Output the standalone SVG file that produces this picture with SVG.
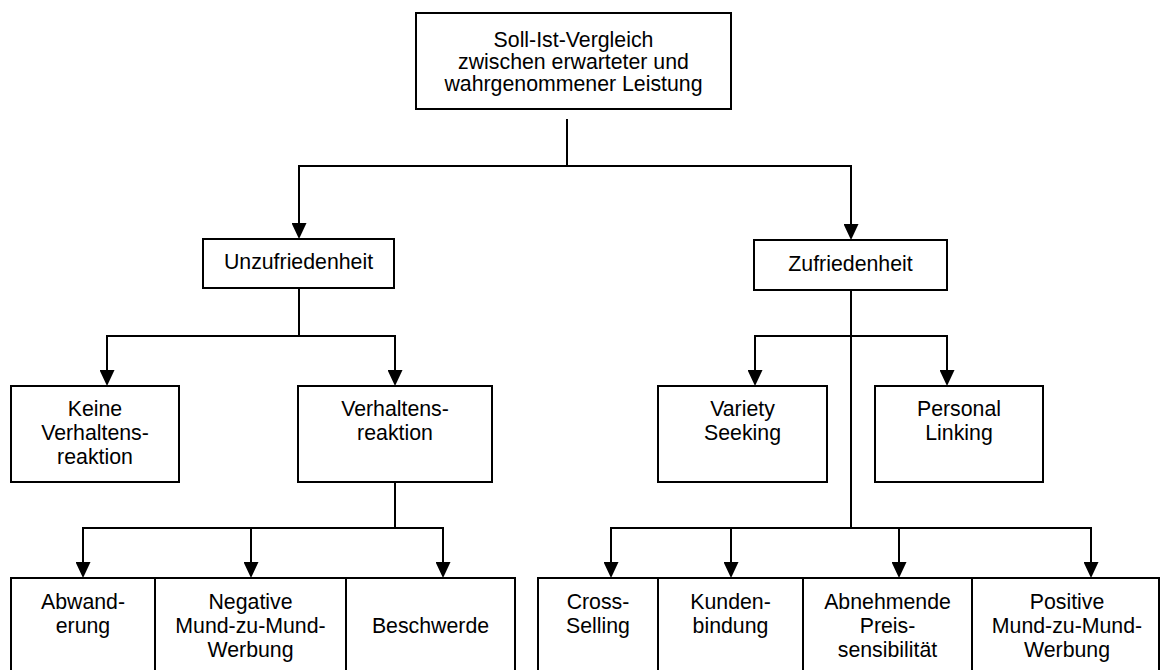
<svg xmlns="http://www.w3.org/2000/svg" width="1163" height="670" viewBox="0 0 1163 670">
  <style>
    .box { fill: #ffffff; stroke: #000000; stroke-width: 2; }
    .lbl { font-family: "Liberation Sans", Arial, sans-serif; font-size: 21.3px; fill: #000000; text-anchor: middle; }
    .wire { fill: none; stroke: #000000; stroke-width: 2; }
    .arrow { fill: none; stroke: #000000; stroke-width: 2; marker-end: url(#head); }
  </style>
  <defs>
    <marker id="head" viewBox="0 0 16 15" refX="8" refY="7.5" markerWidth="16" markerHeight="15" markerUnits="userSpaceOnUse" orient="auto">
      <path d="M0,0 L16,7.5 L0,15 z" fill="#000000"/>
    </marker>
  </defs>
  <rect width="1163" height="670" fill="#ffffff"/>

  <!-- connectors -->
  <g id="connectors">
    <!-- root split -->
    <path class="wire" d="M567,119 V166 M299,166 H851"/>
    <path class="arrow" d="M299,165 V231"/>
    <path class="arrow" d="M851,165 V232"/>
    <!-- Unzufriedenheit split -->
    <path class="wire" d="M299,288 V336 M107,336 H395"/>
    <path class="arrow" d="M107,335 V378"/>
    <path class="arrow" d="M395,335 V378"/>
    <!-- Verhaltensreaktion split -->
    <path class="wire" d="M395,482 V528 M83,528 H443"/>
    <path class="arrow" d="M83,527 V570"/>
    <path class="arrow" d="M251,527 V570"/>
    <path class="arrow" d="M443,527 V570"/>
    <!-- Zufriedenheit split -->
    <path class="wire" d="M851,288 V528 M755,336 H947 M611,528 H1091"/>
    <path class="arrow" d="M755,335 V378"/>
    <path class="arrow" d="M947,335 V378"/>
    <path class="arrow" d="M611,527 V570"/>
    <path class="arrow" d="M731,527 V570"/>
    <path class="arrow" d="M899,527 V570"/>
    <path class="arrow" d="M1091,527 V570"/>
  </g>

  <g id="soll-ist">
    <rect class="box" x="416" y="13" width="315" height="96"/>
    <text class="lbl" x="573.5" y="47">Soll-Ist-Vergleich</text>
    <text class="lbl" x="573.5" y="69">zwischen erwarteter und</text>
    <text class="lbl" x="573.5" y="91">wahrgenommener Leistung</text>
  </g>

  <g id="unzufriedenheit">
    <rect class="box" x="203" y="239" width="191" height="49"/>
    <text class="lbl" x="298.5" y="269">Unzufriedenheit</text>
  </g>

  <g id="zufriedenheit">
    <rect class="box" x="754" y="240" width="193" height="50"/>
    <text class="lbl" x="850.5" y="271">Zufriedenheit</text>
  </g>

  <g id="keine-reaktion">
    <rect class="box" x="11" y="386" width="168" height="96"/>
    <text class="lbl" x="95" y="416">Keine</text>
    <text class="lbl" x="95" y="440">Verhaltens-</text>
    <text class="lbl" x="95" y="464">reaktion</text>
  </g>

  <g id="verhaltensreaktion">
    <rect class="box" x="298" y="386" width="194" height="96"/>
    <text class="lbl" x="395" y="416">Verhaltens-</text>
    <text class="lbl" x="395" y="440">reaktion</text>
  </g>

  <g id="variety-seeking">
    <rect class="box" x="658" y="386" width="169" height="96"/>
    <text class="lbl" x="742.5" y="416">Variety</text>
    <text class="lbl" x="742.5" y="440">Seeking</text>
  </g>

  <g id="personal-linking">
    <rect class="box" x="875" y="386" width="168" height="96"/>
    <text class="lbl" x="959" y="416">Personal</text>
    <text class="lbl" x="959" y="440">Linking</text>
  </g>

  <g id="abwanderung">
    <rect class="box" x="11" y="578" width="144" height="100"/>
    <text class="lbl" x="83" y="609">Abwand-</text>
    <text class="lbl" x="83" y="633">erung</text>
  </g>

  <g id="negative-mzm">
    <rect class="box" x="155" y="578" width="191" height="100"/>
    <text class="lbl" x="250.5" y="609">Negative</text>
    <text class="lbl" x="250.5" y="633">Mund-zu-Mund-</text>
    <text class="lbl" x="250.5" y="657">Werbung</text>
  </g>

  <g id="beschwerde">
    <rect class="box" x="346" y="578" width="169" height="100"/>
    <text class="lbl" x="430.5" y="633">Beschwerde</text>
  </g>

  <g id="cross-selling">
    <rect class="box" x="538" y="578" width="120" height="100"/>
    <text class="lbl" x="598" y="609">Cross-</text>
    <text class="lbl" x="598" y="633">Selling</text>
  </g>

  <g id="kundenbindung">
    <rect class="box" x="658" y="578" width="145" height="100"/>
    <text class="lbl" x="730.5" y="609">Kunden-</text>
    <text class="lbl" x="730.5" y="633">bindung</text>
  </g>

  <g id="preissensibilitaet">
    <rect class="box" x="803" y="578" width="169" height="100"/>
    <text class="lbl" x="887.5" y="609">Abnehmende</text>
    <text class="lbl" x="887.5" y="633">Preis-</text>
    <text class="lbl" x="887.5" y="657">sensibilität</text>
  </g>

  <g id="positive-mzm">
    <rect class="box" x="972" y="578" width="187" height="100"/>
    <text class="lbl" x="1067" y="609">Positive</text>
    <text class="lbl" x="1067" y="633">Mund-zu-Mund-</text>
    <text class="lbl" x="1067" y="657">Werbung</text>
  </g>
</svg>
